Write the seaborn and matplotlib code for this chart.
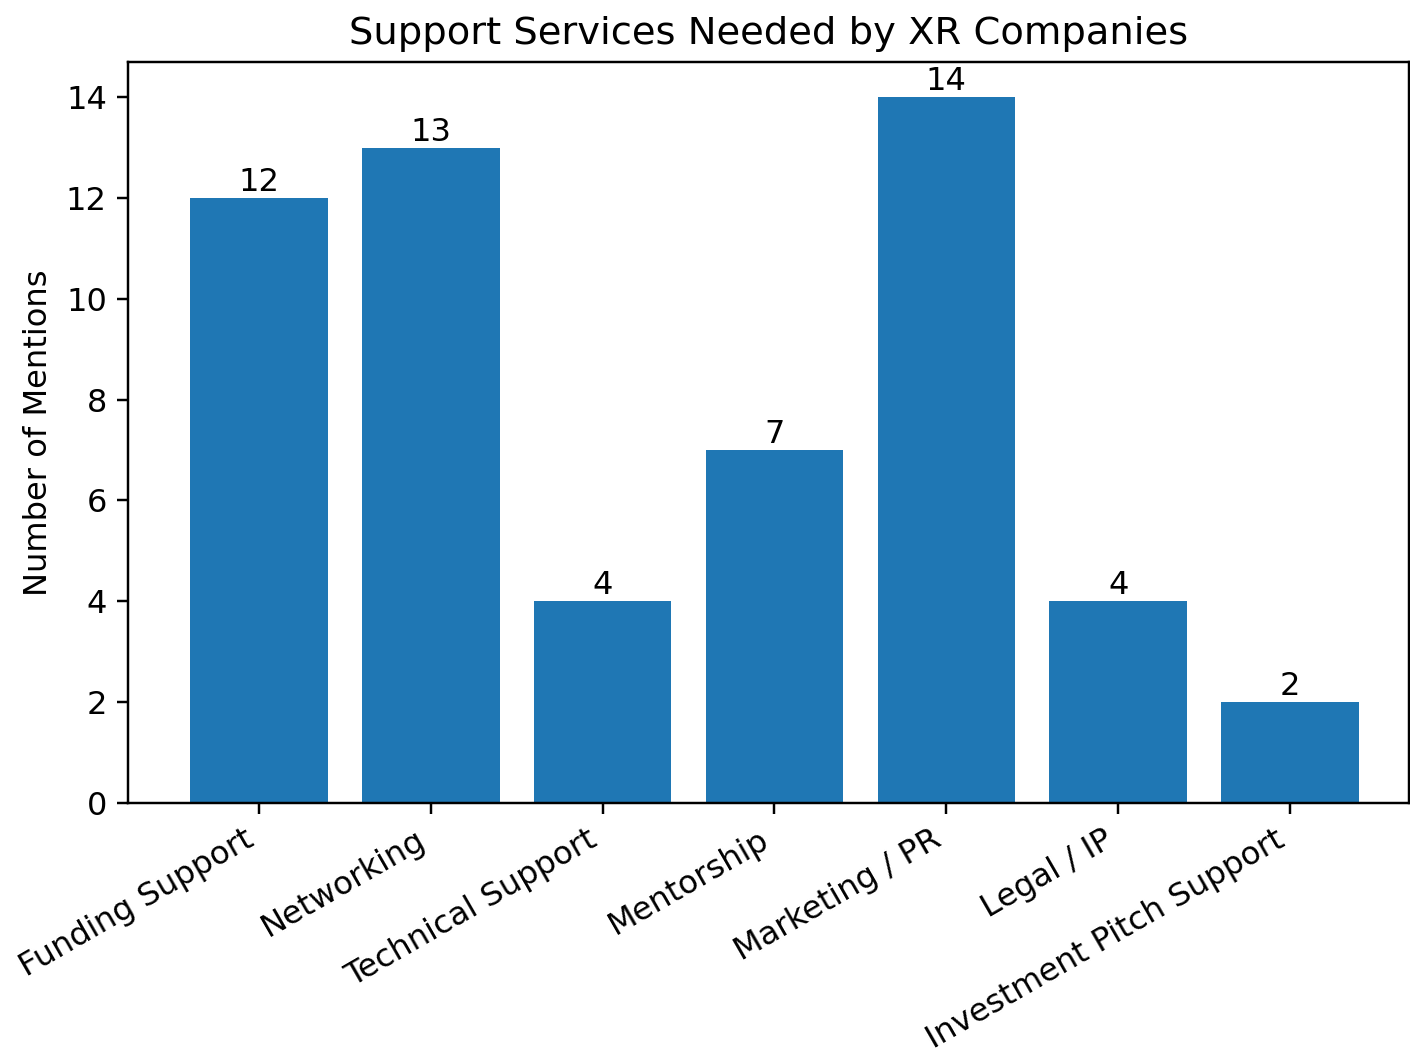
import pandas as pd
import matplotlib
matplotlib.use("Agg")
import matplotlib.pyplot as plt
import seaborn as sns

services = ['Funding Support', 'Networking', 'Technical Support', 'Mentorship',
            'Marketing / PR', 'Legal / IP', 'Investment Pitch Support']
mentions = [12, 13, 4, 7, 14, 4, 2]

df = pd.DataFrame({'Service': services, 'Mentions': mentions})

sns.set_style('ticks')
plt.rcParams['font.family'] = ['DejaVu Sans']
plt.rcParams['text.color'] = 'black'
plt.rcParams['axes.labelcolor'] = 'black'
plt.rcParams['xtick.color'] = 'black'
plt.rcParams['ytick.color'] = 'black'

fig, ax = plt.subplots(figsize=(1410 / 220, 1052 / 220), dpi=220)
sns.barplot(x='Service', y='Mentions', data=df, color='#1f77b4', saturation=1,
            width=0.8, linewidth=0, ax=ax)
ax.bar_label(ax.containers[0], fontsize=10.5)

ax.set_xlim(-0.76, 6.69)
ax.set_ylim(0, 14.7)
ax.set_title('Support Services Needed by XR Companies', fontsize=12.6)
ax.set_xlabel('')
ax.set_ylabel('Number of Mentions', fontsize=10.5)
ax.tick_params(labelsize=10.5)
plt.setp(ax.get_xticklabels(), rotation=30, ha='right')
for s in ax.spines.values():
    s.set_visible(True)
    s.set_color('black')

plt.subplots_adjust(left=0.091, right=0.999, top=0.941, bottom=0.237)
plt.savefig('out.png', dpi=220)
